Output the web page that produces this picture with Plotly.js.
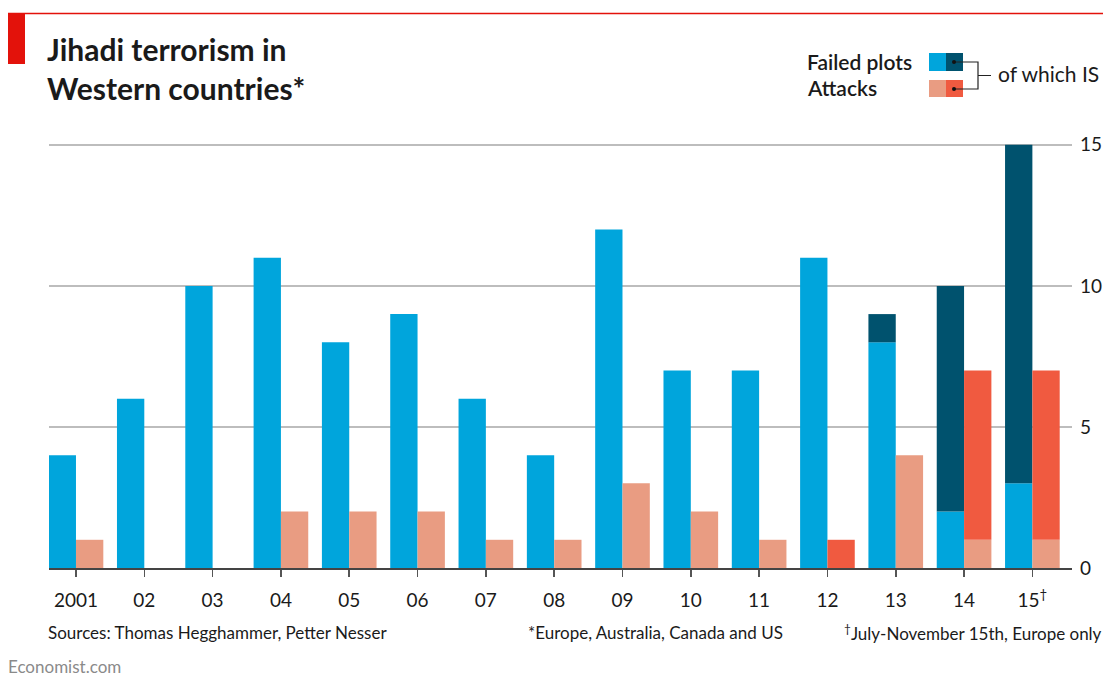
<!DOCTYPE html>
<html><head><meta charset="utf-8">
<script src="https://cdn.plot.ly/plotly-3.0.1.min.js"></script>
<style>html,body{margin:0;padding:0;background:#fff}#chart{width:1103px;height:677px}</style>
</head><body><div id="chart"></div>
<script>
// ---- data ----
const years = ['2001','2002','2003','2004','2005','2006','2007','2008','2009','2010','2011','2012','2013','2014','2015'];
const yearLabels = ['2001','02','03','04','05','06','07','08','09','10','11','12','13','14','15<sup>†</sup>'];
const failedOther = [4,6,10,11,8,9,6,4,12,7,7,11,8,2,3];
const failedIS    = [0,0,0,0,0,0,0,0,0,0,0,0,1,8,12];
const attacksOther = [1,0,0,2,2,2,1,1,3,2,1,0,4,1,1];
const attacksIS    = [0,0,0,0,0,0,0,0,0,0,0,1,0,6,6];
const yTicks = [0,5,10,15];

// ---- geometry helpers (page pixels -> paper) ----
const W = 1103, H = 677;
const M = {l:49, r:31, t:142, b:109};
const PW = W - M.l - M.r, PH = H - M.t - M.b;
const px = x => (x - M.l) / PW;
const py = y => (H - M.b - y) / PH;

const C = {lb:'#00A5DC', db:'#00526E', ls:'#E99C82', rd:'#F05A40', red:'#E3120B'};
const FONT = 'Lato, "Open Sans", sans-serif';

const bar = (name, x, y, base, color, offset) => ({
  type:'bar', name, x, y, base, width:0.4, offset,
  marker:{color, line:{width:0}}, hoverinfo:'x+y'
});

const traces = [
  bar('Failed plots', years, failedOther, undefined, C.lb, -0.4),
  bar('Failed plots, of which IS', years, failedIS, failedOther, C.db, -0.4),
  bar('Attacks', years, attacksOther, undefined, C.ls, 0),
  bar('Attacks, of which IS', years, attacksIS, attacksOther, C.rd, 0)
];

const shapes = [
  // red top rule and tag
  {type:'line', xref:'paper', yref:'paper', x0:px(8), x1:px(1103), y0:py(13.5), y1:py(13.5), line:{color:C.red, width:1.5}},
  {type:'rect', xref:'paper', yref:'paper', x0:px(8), x1:px(25), y0:py(13), y1:py(64), fillcolor:C.red, line:{width:0}},
  // legend swatches
  {type:'rect', xref:'paper', yref:'paper', x0:px(929), x1:px(946), y0:py(53), y1:py(71), fillcolor:C.lb, line:{width:0}},
  {type:'rect', xref:'paper', yref:'paper', x0:px(946), x1:px(963), y0:py(53), y1:py(71), fillcolor:C.db, line:{width:0}},
  {type:'rect', xref:'paper', yref:'paper', x0:px(929), x1:px(946), y0:py(80), y1:py(97), fillcolor:C.ls, line:{width:0}},
  {type:'rect', xref:'paper', yref:'paper', x0:px(946), x1:px(963), y0:py(80), y1:py(97), fillcolor:C.rd, line:{width:0}},
  // bracket
  {type:'path', xref:'paper', yref:'paper',
   path:`M ${px(954)} ${py(62)} L ${px(978)} ${py(62)} L ${px(978)} ${py(89)} L ${px(954)} ${py(89)} M ${px(978)} ${py(75.5)} L ${px(991)} ${py(75.5)}`,
   line:{color:'#222', width:1.2}},
  {type:'circle', xref:'paper', yref:'paper', x0:px(952), x1:px(956), y0:py(60), y1:py(64), fillcolor:'#111', line:{width:0}},
  {type:'circle', xref:'paper', yref:'paper', x0:px(952), x1:px(956), y0:py(87), y1:py(91), fillcolor:'#111', line:{width:0}}
];

const ann = (text, x, y, size, opts={}) => Object.assign({
  text, xref:'paper', yref:'paper', x:px(x), y:py(y), showarrow:false,
  xanchor:'left', yanchor:'middle', font:{family:FONT, size, color:'#1a1a1a'}
}, opts);

const annotations = [
  ann('Failed plots', 805, 62, 21, {font:{family:FONT, size:21, color:'#1a1a1a', weight:600}}),
  ann('Attacks', 805, 88, 21, {font:{family:FONT, size:21, color:'#1a1a1a', weight:600}}),
  ann('of which IS', 996, 74, 21),
  ann('Sources: Thomas Hegghammer, Petter Nesser', 46, 632, 17),
  ann('*Europe, Australia, Canada and US', 526, 632, 17),
  ann('<sup>†</sup>July-November 15th, Europe only', 1104, 632, 17, {xanchor:'right'}),
  ann('Economist.com', 6, 666, 17, {font:{family:FONT, size:17, color:'#8a8a8a'}})
];

const layout = {
  width:W, height:H, margin:M,
  paper_bgcolor:'#fff', plot_bgcolor:'#fff',
  font:{family:FONT, color:'#1a1a1a'},
  title:{text:'<b>Jihadi terrorism in<br>Western countries*</b>', xref:'container', yref:'container',
         x:47/W, xanchor:'left', y:1-61/H, yanchor:'top',
         font:{family:FONT, size:30, color:'#1a1a1a'}},
  barmode:'overlay', showlegend:false,
  xaxis:{type:'category', range:[-0.395, 14.58], tickvals:years, ticktext:yearLabels,
         ticks:'outside', ticklen:7, tickwidth:1.5, tickcolor:'#555',
         showline:true, linecolor:'#444', linewidth:1.5, showgrid:false, zeroline:false,
         tickfont:{family:FONT, size:19, color:'#1a1a1a'}, ticklabelstandoff:8, fixedrange:true},
  yaxis:{side:'right', range:[0,15.1], tickvals:yTicks, ticktext:yTicks.map(String),
         showgrid:true, gridcolor:'#BDBDBD', gridwidth:2, zeroline:false, showline:false, ticks:'',
         tickfont:{family:FONT, size:19, color:'#1a1a1a'}, ticklabelstandoff:7, fixedrange:true},
  shapes, annotations
};

Plotly.newPlot('chart', traces, layout, {displayModeBar:false, staticPlot:true});
</script></body></html>
